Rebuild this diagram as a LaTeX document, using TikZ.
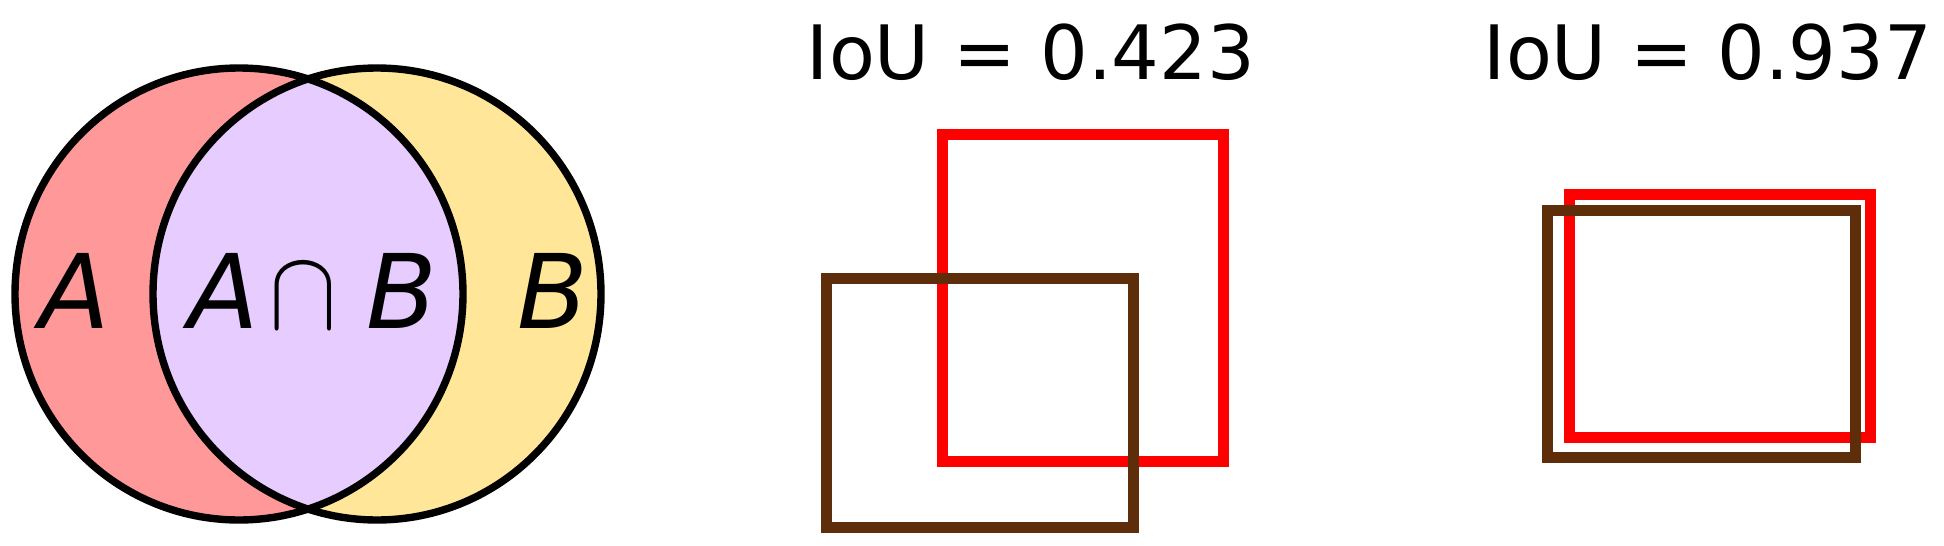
\documentclass[tikz,border=0pt]{standalone}
\usepackage{fix-cm}
\usepackage{graphicx}
\usepackage{fontspec}
\newfontfamily\dejavu{DejaVu Sans}
\definecolor{setA}{RGB}{255,153,153}
\definecolor{setB}{RGB}{255,230,153}
\definecolor{setAB}{RGB}{230,204,255}
\definecolor{gtbrown}{RGB}{94,45,10}
\definecolor{predred}{RGB}{255,0,0}
\tikzset{
  outline/.style={draw=black, line width=3.7pt},
  predbox/.style={draw=predred, line width=5.5pt},
  gtbox/.style={draw=gtbrown, line width=5.5pt},
  setlabel/.style={font=\dejavu\itshape\fontsize{51.5pt}{60pt}\selectfont, anchor=base, inner sep=0pt},
  ioulabel/.style={font=\dejavu\fontsize{37.5pt}{44pt}\selectfont, anchor=base, inner sep=0pt}
}
\newcommand{\capsym}{{\fontsize{57pt}{60pt}\selectfont\scalebox{0.89}[1]{$\cap$}}}
\begin{document}
\begin{tikzpicture}[x=0.5pt,y=-0.5pt]
\useasboundingbox (0,0) rectangle (1944,546);
% Venn diagram
\fill[setA] (239,294) ellipse [x radius=224, y radius=226];
\fill[setB] (377,294) ellipse [x radius=224, y radius=226];
\begin{scope}
  \clip (239,294) ellipse [x radius=224, y radius=226];
  \fill[setAB] (377,294) ellipse [x radius=224, y radius=226];
\end{scope}
\draw[outline] (239,294) ellipse [x radius=224, y radius=226];
\draw[outline] (377,294) ellipse [x radius=224, y radius=226];
\node[setlabel] (la) at (75,328) {A};
\node[setlabel] (lab) at (313,328) {A\hspace{5.2pt}\capsym\hspace{15pt}B};
\node[setlabel] (lb) at (553,328) {B};
% IoU = 0.423
\node[ioulabel] (t1) at (1031,79) {IoU = 0.423};
\draw[predbox] (942.5,134.5) rectangle (1223.5,461);
\draw[gtbox] (826,278.5) rectangle (1133.3,527);
% IoU = 0.937
\node[ioulabel] (t2) at (1708,79) {IoU = 0.937};
\draw[predbox] (1569.5,194.8) rectangle (1870.8,437.6);
\draw[gtbox] (1547,210.8) rectangle (1855,457.5);
\end{tikzpicture}
\end{document}
